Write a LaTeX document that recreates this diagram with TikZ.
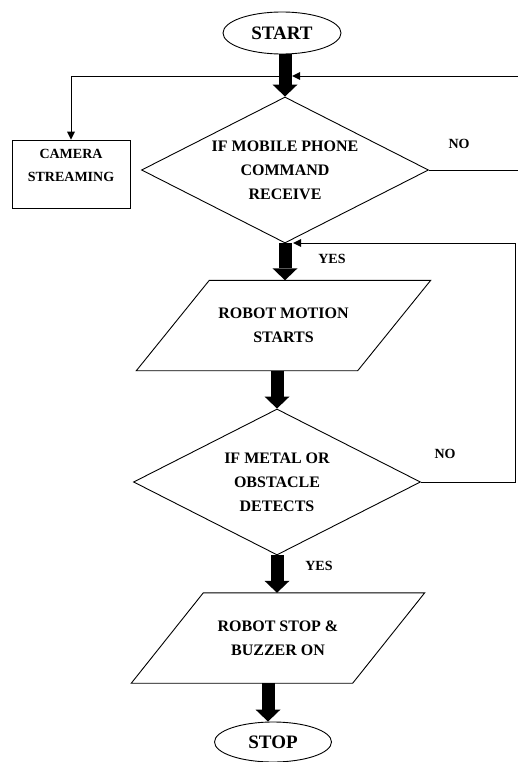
\documentclass[tikz,border=0pt]{standalone}
\usepackage{fontspec}
\setmainfont{Liberation Serif}
\usetikzlibrary{shapes.geometric,arrows.meta,calc}

\tikzset{
  base/.style={font=\bfseries, text=black, align=center},
  terminal/.style={base, draw, ellipse, line width=0.9pt, inner sep=0pt,
    minimum width=118pt, minimum height=42pt, font=\bfseries\fontsize{19}{22}\selectfont},
  decision/.style={base, draw, diamond, shape aspect=1.97, line width=0.9pt, inner sep=0pt,
    minimum width=287pt, minimum height=146pt, font=\bfseries\fontsize{16}{24}\selectfont},
  ioframe/.style={base, inner sep=0pt, minimum width=221pt, minimum height=90pt,
    font=\bfseries\fontsize{16}{24}\selectfont},
  plainbox/.style={draw, line width=0.9pt, inner sep=0pt, minimum width=118pt, minimum height=68pt},
  label/.style={base, font=\bfseries\fontsize{14}{16}\selectfont},
  flowarrow/.style={line width=13pt, -{Triangle[length=12pt,width=25pt,line width=0pt]}},
  thinarrow/.style={line width=0.9pt, -{Triangle[length=8pt,width=8pt,line width=0pt]}}
}

% slanted frame drawn around a node of type ioframe
\newcommand{\slantframe}[2]{%
  \draw[line width=0.9pt]
    ([xshift=#2]#1.north west) -- ([xshift=#2]#1.north east) --
    ([xshift=-#2]#1.south east) -- ([xshift=-#2]#1.south west) -- cycle;}

\begin{document}
\begin{tikzpicture}[x=1pt,y=-1pt]
  \useasboundingbox (0,0) rectangle (517,762);

  % main column
  \node[terminal] (start) at (282,33) {START};
  \node[decision] (d1) at (285,170) {IF MOBILE PHONE\\COMMAND\\RECEIVE};
  \node[ioframe] (p1) at (283.5,325.5) {ROBOT MOTION\\STARTS};
  \slantframe{p1}{36.5pt}
  \node[decision] (d2) at (277,482) {IF METAL OR\\OBSTACLE\\DETECTS};
  \node[ioframe] (p2) at (278,638) {ROBOT STOP \&\\BUZZER ON};
  \slantframe{p2}{36pt}
  \node[terminal, minimum width=117pt, minimum height=40pt] (stop) at (273,742) {STOP};

  % side box
  \node[plainbox] (cam) at (71,174) {};
  \node[base, anchor=north, inner sep=0pt, font=\bfseries\fontsize{14}{23}\selectfont]
    (camtxt) at ([yshift=-9pt]cam.north) {CAMERA\\STREAMING};

  % junction points on the thick arrows
  \coordinate (j1r) at (292,76);
  \coordinate (j1l) at (279,76);
  \coordinate (j2r) at (293,243);
  \coordinate (r1) at (524,170);
  \coordinate (r1t) at (524,76);
  \coordinate (r2) at (515,482);
  \coordinate (r2t) at (515,243);

  % thick flow arrows
  \draw[flowarrow] (d1.north |- start.south) -- (d1.north);
  \draw[flowarrow] (d1.south) -- (d1.south |- p1.north);
  \draw[flowarrow] (d2.north |- p1.south) -- (d2.north);
  \draw[flowarrow] (d2.south) -- (d2.south |- p2.north);
  \draw[flowarrow] ([xshift=-5pt]stop.north |- p2.south) -- ([xshift=-5pt]stop.north);

  % loops and branch
  \draw[thinarrow] (d1.east) -- (r1) -- (r1t) -- (j1r);
  \draw[thinarrow] (j1l) -| (cam.north);
  \draw[thinarrow] (d2.east) -- (r2) -- (r2t) -- (j2r);

  % branch labels
  \node[label] (no1) at (459,144) {NO};
  \node[label] (yes1) at (332,259) {YES};
  \node[label] (no2) at (445,454) {NO};
  \node[label] (yes2) at (319,566) {YES};
\end{tikzpicture}
\end{document}
